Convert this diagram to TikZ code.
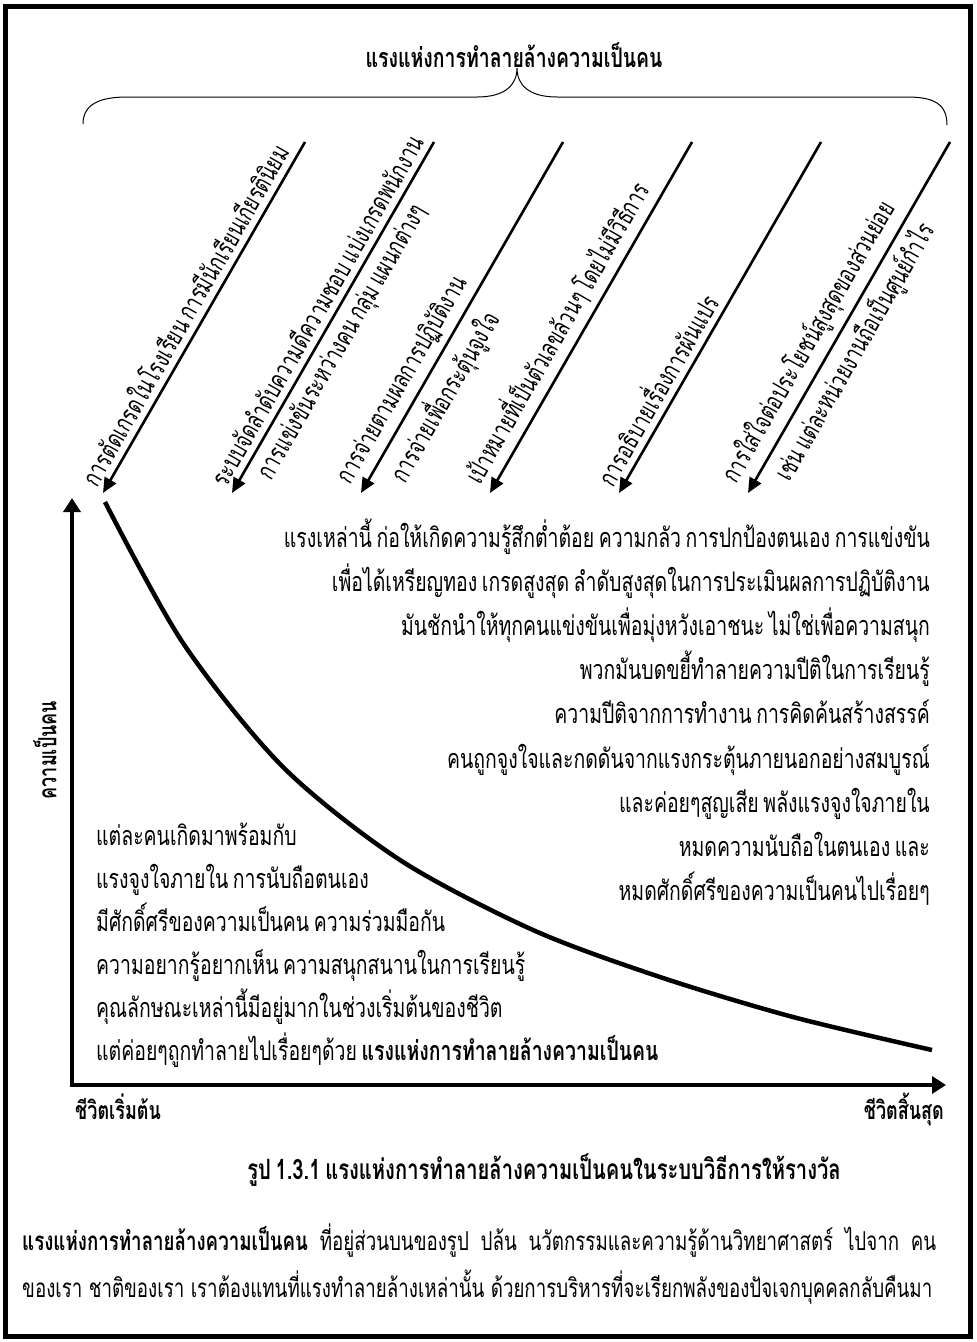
\documentclass[tikz,border=0pt]{standalone}
\usepackage{fontspec}
\setmainfont{Loma}[Script=Thai, FakeStretch=0.72, WordSpace=0.7]
\usetikzlibrary{arrows.meta}

\tikzset{
  force/.style={line width=2.6pt, -{Triangle[length=15pt,width=13pt]}},
  axis/.style={line width=4.5pt, {Triangle[length=14pt,width=17pt]}-{Triangle[length=14pt,width=17pt]}},
  lbl/.style={font=\fontsize{26}{28}\selectfont, sloped, inner xsep=0pt, inner ysep=6pt},
  txt/.style={font=\fontsize{27}{29}\selectfont, inner sep=0pt},
  head/.style={font=\bfseries\fontsize{25}{27}\selectfont, inner sep=0pt},
}

\begin{document}
\begin{tikzpicture}[x=1pt, y=-1pt]
\useasboundingbox (0,0) rectangle (977,1342);
\draw[line width=5pt] (5,6) rectangle (970,1336);

% title and brace
\node[head, font=\bfseries\fontsize{27}{29}\selectfont] (title) at (514,55) {แรงแห่งการทำลายล้างความเป็นคน};
\draw[line width=1pt] (83,124) .. controls (83,104) and (100,97) .. (127,97) -- (477,97)
  .. controls (505,97) and (517,85) .. (517,68) .. controls (517,85) and (529,97) .. (557,97)
  -- (907,97) .. controls (934,97) and (947,104) .. (947,125);

% forces
\foreach \i in {0,...,5} {
  \coordinate (t\i) at (305+129*\i,142);
  \coordinate (h\i) at (103+129*\i,493);
}
\draw[force] (t0) -- node[lbl, pos=1, anchor=south west] (a0) {การตัดเกรดในโรงเรียน การมีนักเรียนเกียรตินิยม} (h0);
\draw[force] (t1) -- node[lbl, pos=1, anchor=south west] (a1) {ระบบจัดลำดับความดีความชอบ แบ่งเกรดพนักงาน}
  node[lbl, pos=0.93, anchor=north west] (b1) {การแข่งขันระหว่างคน กลุ่ม แผนกต่างๆ} (h1);
\draw[force] (t2) -- node[lbl, pos=1, anchor=south west] (a2) {การจ่ายตามผลการปฏิบัติงาน}
  node[lbl, pos=0.93, anchor=north west] (b2) {การจ่ายเพื่อกระตุ้นจูงใจ} (h2);
\draw[force] (t3) -- node[lbl, pos=1, anchor=south west] (a3) {เป้าหมายที่เป็นตัวเลขล้วนๆ โดยไม่มีวิธีการ} (h3);
\draw[force] (t4) -- node[lbl, pos=1, anchor=south west] (a4) {การอธิบายเรื่องการผันแปร} (h4);
\draw[force] (t5) -- node[lbl, pos=1, anchor=south west] (a5) {การใส่ใจต่อประโยชน์สูงสุดของส่วนย่อย}
  node[lbl, pos=0.93, anchor=north west] (b5) {เช่น แต่ละหน่วยงานถือเป็นศูนย์กำไร} (h5);

% axes and curve
\coordinate (O) at (72,1085);
\coordinate (ytop) at (72,498);
\coordinate (xend) at (946,1085);
\draw[axis] (ytop) -- (O) -- (xend);
\draw[line width=4.5pt] plot[smooth, tension=0.5] coordinates {(105,502) (183,643) (283,767) (400,860) (533,930) (660,977) (793,1017) (932,1050)};
\node[head, rotate=90] (ylbl) at (45,750) {ความเป็นคน};

% right text
\foreach \t [count=\k] in {แรงเหล่านี้ ก่อให้เกิดความรู้สึกต่ำต้อย ความกลัว การปกป้องตนเอง การแข่งขัน,
  เพื่อได้เหรียญทอง เกรดสูงสุด ลำดับสูงสุดในการประเมินผลการปฏิบัติงาน,
  มันชักนำให้ทุกคนแข่งขันเพื่อมุ่งหวังเอาชนะ ไม่ใช่เพื่อความสนุก,
  พวกมันบดขยี้ทำลายความปีติในการเรียนรู้,
  ความปีติจากการทำงาน การคิดค้นสร้างสรรค์,
  คนถูกจูงใจและกดดันจากแรงกระตุ้นภายนอกอย่างสมบูรณ์,
  และค่อยๆสูญเสีย พลังแรงจูงใจภายใน,
  หมดความนับถือในตนเอง และ,
  หมดศักดิ์ศรีของความเป็นคนไปเรื่อยๆ}
  \node[txt, anchor=base east] (r\k) at (930,547+44.2*\k-44.2) {\t};

% left text
\foreach \t [count=\k] in {แต่ละคนเกิดมาพร้อมกับ,
  แรงจูงใจภายใน การนับถือตนเอง,
  มีศักดิ์ศรีของความเป็นคน ความร่วมมือกัน,
  ความอยากรู้อยากเห็น ความสนุกสนานในการเรียนรู้,
  คุณลักษณะเหล่านี้มีอยู่มากในช่วงเริ่มต้นของชีวิต,
  {แต่ค่อยๆถูกทำลายไปเรื่อยๆด้วย \textbf{แรงแห่งการทำลายล้างความเป็นคน}}}
  \node[txt, anchor=base west] (l\k) at (96,845+43*\k-43) {\t};

% bottom
\node[head, anchor=base west] (start) at (75,1119) {ชีวิตเริ่มต้น};
\node[head, anchor=base east] (end) at (944,1119) {ชีวิตสิ้นสุด};
\node[head, font=\bfseries\fontsize{28}{30}\selectfont, anchor=base] (cap) at (544,1179) {รูป 1.3.1 แรงแห่งการทำลายล้างความเป็นคนในระบบวิธีการให้รางวัล};
\node[txt, font=\fontsize{26}{28}\selectfont, anchor=base west] (p1) at (22,1250) {\makebox[914pt][s]{\textbf{แรงแห่งการทำลายล้างความเป็นคน} ที่อยู่ส่วนบนของรูป ปล้น นวัตกรรมและความรู้ด้านวิทยาศาสตร์ ไปจาก คน}};
\node[txt, font=\fontsize{26}{28}\selectfont, anchor=base west] (p2) at (22,1297) {\makebox[910pt][s]{ของเรา ชาติของเรา เราต้องแทนที่แรงทำลายล้างเหล่านั้น ด้วยการบริหารที่จะเรียกพลังของปัจเจกบุคคลกลับคืนมา}};
\end{tikzpicture}
\end{document}
